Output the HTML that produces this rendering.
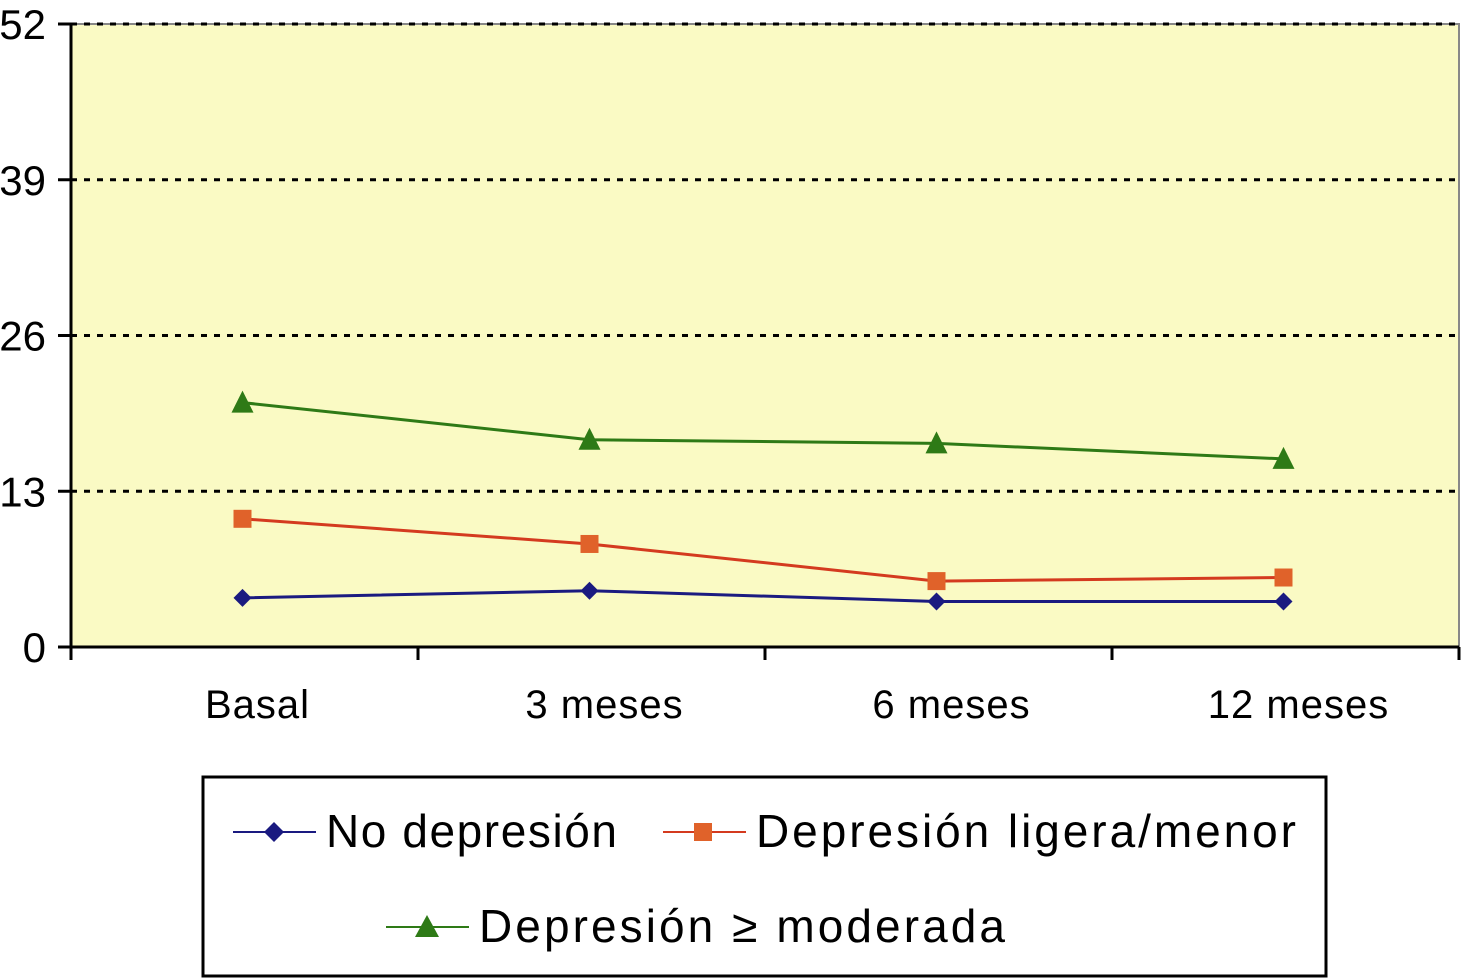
<!DOCTYPE html>
<html><head><meta charset="utf-8"><style>
body{margin:0;background:#fff;}
svg{display:block;font-family:"Liberation Sans",sans-serif;}
</style></head><body>
<svg id="chart" width="1461" height="979" viewBox="0 0 1461 979" xmlns="http://www.w3.org/2000/svg">
<rect x="71" y="24" width="1388" height="623" fill="#fafac4" stroke="#888" stroke-width="2"/>
<g id="grid"></g><g id="axes"></g><g id="series"></g>
<g>
<rect x="203" y="777" width="1123" height="199" fill="#fff" stroke="#000" stroke-width="3"/>
<line x1="233" y1="832" x2="316" y2="832" stroke="#1a1a80" stroke-width="2"/>
<polygon points="274,822 284,832 274,842 264,832" fill="#1a1a80"/>
<text x="326" y="847" font-size="46" textLength="291" lengthAdjust="spacing">No depresión</text>
<line x1="663" y1="832" x2="746" y2="832" stroke="#d43a1f" stroke-width="2"/>
<rect x="694" y="823" width="18" height="18" fill="#e0622a"/>
<text x="756" y="847" font-size="46" textLength="540" lengthAdjust="spacing">Depresión ligera/menor</text>
<line x1="386" y1="927" x2="469" y2="927" stroke="#2e7a16" stroke-width="2"/>
<polygon points="427,915 439,937 415,937" fill="#2e7a16"/>
<text x="479" y="942" font-size="46" textLength="526" lengthAdjust="spacing">Depresión ≥ moderada</text>
</g>
</svg>
<script>
const categories=["Basal","3 meses","6 meses","12 meses"];
const yTicks=[0,13,26,39,52];
const noDepresion=[4.1,4.7,3.8,3.8];
const ligera=[10.7,8.6,5.5,5.8];
const moderada=[20.4,17.3,17.0,15.7];
const NS="http://www.w3.org/2000/svg";
const x0=71,x1=1459,y0=647,y1=24,yMax=52;
const xs=i=>x0+(x1-x0)/categories.length*(i+0.5);
const ys=v=>y0-(v/yMax)*(y0-y1);
function mk(tag,attrs,parent){const e=document.createElementNS(NS,tag);for(const k in attrs)e.setAttribute(k,attrs[k]);document.getElementById(parent).appendChild(e);return e;}
yTicks.forEach(t=>{
  const y=ys(t);
  if(t>0){const g=mk('line',{x1:x0,x2:x1,y1:y,y2:y,stroke:'#000','stroke-width':3,'stroke-dasharray':'6 7'},'grid');
  
  }
  const tk=mk('line',{x1:58,x2:x0,y1:y,y2:y,stroke:'#000','stroke-width':3},'axes');
  
  
  const tx=mk('text',{x:46,y:y+15,'font-size':42,'text-anchor':'end'},'axes');tx.textContent=t;
  
  
});
let a=mk('line',{x1:x0,x2:x0,y1:y1,y2:y0,stroke:'#000','stroke-width':3},'axes');


a=mk('line',{x1:x0,x2:x1,y1:y0,y2:y0,stroke:'#000','stroke-width':3},'axes');


for(let i=0;i<=categories.length;i++){const xx=x0+(x1-x0)/categories.length*i;
  const t=mk('line',{x1:xx,x2:xx,y1:y0,y2:y0+13,stroke:'#000','stroke-width':3},'axes');
  
  }
categories.forEach((c,i)=>{const t=mk('text',{x:xs(i)+13,y:718,'font-size':40,'text-anchor':'middle','letter-spacing':1},'axes');t.textContent=c;
  
  });
function series(vals,color,fill,shape,name){
  const pts=vals.map((v,i)=>xs(i)-2+','+ys(v)).join(' ');
  const l=mk('polyline',{points:pts,fill:'none',stroke:color,'stroke-width':3},'series');
  
  
  vals.forEach((v,i)=>{const cx=xs(i)-2,cy=ys(v);let m;
    if(shape==='d')m=mk('polygon',{points:`${cx},${cy-9} ${cx+9},${cy} ${cx},${cy+9} ${cx-9},${cy}`,fill:fill},'series');
    else if(shape==='s')m=mk('rect',{x:cx-9,y:cy-9,width:18,height:18,fill:fill},'series');
    else m=mk('polygon',{points:`${cx},${cy-12} ${cx+11},${cy+10} ${cx-11},${cy+10}`,fill:fill},'series');
    
    });
}
series(moderada,'#2e7a16','#2e7a16','t','moderada');
series(ligera,'#d43a1f','#e0622a','s','ligera');
series(noDepresion,'#1a1a80','#1a1a80','d','no-depresion');
</script>
</body></html>
